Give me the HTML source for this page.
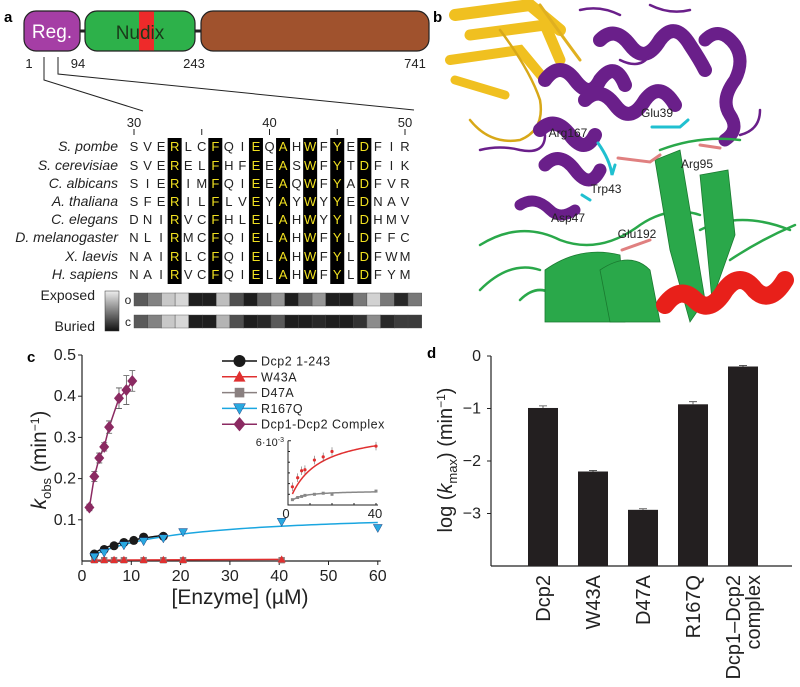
<!DOCTYPE html>
<html><head><meta charset="utf-8"><style>
html,body{margin:0;padding:0;background:#fff;}
svg{display:block;font-family:"Liberation Sans",Arial,sans-serif;}
</style></head><body>
<svg id="fig" width="800" height="687" viewBox="0 0 800 687" xmlns="http://www.w3.org/2000/svg">
<!-- Panel a -->
<g>
<text x="4" y="22" font-size="15" font-weight="bold">a</text>
<line x1="80" y1="31" x2="86" y2="31" stroke="#222" stroke-width="3"/>
<line x1="195" y1="31" x2="202" y2="31" stroke="#222" stroke-width="3"/>
<rect x="24" y="11" width="56" height="40" rx="12" fill="#a53ea5" stroke="#222" stroke-width="1.2"/>
<text x="52" y="38" font-size="19" fill="#fff" text-anchor="middle">Reg.</text>
<rect x="85" y="11" width="110" height="40" rx="12" fill="#2db14a" stroke="#222" stroke-width="1.2"/>
<rect x="139" y="11.6" width="15" height="38.8" fill="#ee2a2a"/>
<text x="140" y="39" font-size="19" fill="#1a3a1a" text-anchor="middle">Nudix</text>
<rect x="201" y="11" width="228" height="40" rx="12" fill="#a0522d" stroke="#222" stroke-width="1.2"/>
<g font-size="13" fill="#222">
<text x="29" y="68" text-anchor="middle">1</text>
<text x="78" y="68" text-anchor="middle">94</text>
<text x="194" y="68" text-anchor="middle">243</text>
<text x="415" y="68" text-anchor="middle">741</text>
</g>
<polyline points="44,57 44,80 143,111" fill="none" stroke="#222" stroke-width="1"/>
<polyline points="58,57 58,74 414,110" fill="none" stroke="#222" stroke-width="1"/>
<g id="align"></g>
<text x="95" y="300" font-size="14" text-anchor="end" fill="#222">Exposed</text>
<text x="95" y="331" font-size="14" text-anchor="end" fill="#222">Buried</text>
<defs><linearGradient id="gg" x1="0" y1="0" x2="0" y2="1"><stop offset="0" stop-color="#eee"/><stop offset="1" stop-color="#111"/></linearGradient></defs>
<rect x="105" y="291" width="14" height="40" fill="url(#gg)" stroke="#333" stroke-width="0.5"/>
<text x="128" y="304" font-size="12" text-anchor="middle" fill="#222">o</text>
<text x="128" y="326" font-size="12" text-anchor="middle" fill="#222">c</text>
<g id="expo"></g>
</g>
<!-- Panel b -->
<g>
<text x="433" y="22" font-size="15" font-weight="bold">b</text>
<g fill="none" stroke-linecap="round">
<!-- yellow domain -->
<path d="M455,15 L530,5 L560,30" stroke="#f0c020" stroke-width="12"/>
<path d="M470,35 L545,25 L560,60" stroke="#f0c020" stroke-width="11"/>
<path d="M450,60 L520,50 L545,80" stroke="#f0c020" stroke-width="10"/>
<path d="M455,80 L505,95" stroke="#f0c020" stroke-width="9"/>
<path d="M500,30 Q530,70 540,100 Q545,130 520,140 Q490,145 470,120" stroke="#d8a818" stroke-width="2.5"/>
<path d="M540,5 Q565,40 580,60" stroke="#e0b020" stroke-width="3"/>
<!-- purple domain -->
<path d="M545,80 Q560,60 575,80 Q590,100 600,80 Q615,60 625,85" stroke="#6a1f8a" stroke-width="14"/>
<path d="M585,100 Q600,85 615,105 Q630,125 645,100 Q660,80 675,105" stroke="#6a1f8a" stroke-width="14"/>
<path d="M600,40 Q615,25 630,45 Q645,65 660,40 Q675,20 690,45 Q700,60 705,70" stroke="#6a1f8a" stroke-width="14"/>
<path d="M705,40 Q720,25 735,45 Q745,60 735,80 Q720,100 730,115 Q740,130 725,140" stroke="#6a1f8a" stroke-width="13"/>
<path d="M540,130 Q555,115 570,135 Q585,155 595,135" stroke="#6a1f8a" stroke-width="14"/>
<path d="M545,165 Q560,150 575,170 Q590,190 600,170" stroke="#6a1f8a" stroke-width="13"/>
<path d="M520,205 Q535,195 550,210 Q560,220 575,210" stroke="#6a1f8a" stroke-width="11"/>
<path d="M480,150 Q500,145 520,150 Q545,155 545,135" stroke="#6a1f8a" stroke-width="2.5"/>
<path d="M580,10 Q600,5 620,15 M650,5 Q670,15 690,10 M740,135 Q760,130 760,110 M620,60 Q640,70 650,55" stroke="#6a1f8a" stroke-width="2.5"/>
<!-- green domain -->
<path d="M480,245 Q520,220 560,240 Q600,255 640,225 Q670,205 700,215 M480,290 Q510,260 540,270 M660,150 Q700,135 740,140 M730,260 Q760,240 795,225 M700,230 Q740,210 790,230 M520,300 Q540,280 560,300" stroke="#2aa84a" stroke-width="2.5"/>
</g>
<g fill="#2aa84a" stroke="#1a7a30" stroke-width="0.8">
<path d="M655,160 L680,150 L705,300 L690,322 L670,250 Z"/>
<path d="M700,175 L728,170 L735,235 L712,300 Z"/>
<path d="M545,270 Q580,245 620,255 L625,322 L545,322 Z"/>
<path d="M600,270 Q630,250 650,270 L660,322 L610,322 Z"/>
</g>
<g fill="none" stroke-linecap="round">
<path d="M665,305 Q680,285 695,300 Q710,315 725,290 Q740,270 755,290 Q770,305 785,280" stroke="#e8201a" stroke-width="18"/>
<path d="M652,127 L680,127 L688,120" stroke="#20c0d0" stroke-width="3"/>
<path d="M598,143 Q610,160 612,175 L615,165" stroke="#20c0d0" stroke-width="3"/>
<path d="M582,195 L590,200" stroke="#20c0d0" stroke-width="3"/>
<path d="M618,158 L650,162 L660,155" stroke="#e08080" stroke-width="3"/>
<path d="M700,145 L720,148" stroke="#e08080" stroke-width="3"/>
<path d="M622,250 L650,240" stroke="#e08080" stroke-width="3"/>
</g>
<g font-size="12" fill="#222">
<text x="657" y="117" text-anchor="middle">Glu39</text>
<text x="568" y="137" text-anchor="middle">Arg167</text>
<text x="697" y="168" text-anchor="middle">Arg95</text>
<text x="606" y="193" text-anchor="middle">Trp43</text>
<text x="568" y="222" text-anchor="middle">Asp47</text>
<text x="637" y="238" text-anchor="middle">Glu192</text>
</g>
</g>
<!-- Panel c -->
<g id="pc">
<text x="27" y="362" font-size="15" font-weight="bold">c</text>
</g>
<!-- Panel d -->
<g id="pd">
<text x="427" y="358" font-size="15" font-weight="bold">d</text>
</g>
</svg>
<script>
// ---- alignment data ----
const species = ["S. pombe","S. cerevisiae","C. albicans","A. thaliana","C. elegans","D. melanogaster","X. laevis","H. sapiens"];
const seqs = ["SVERLCFQIEQAHWFYEDFIR","SVERELFHFEEASWFYTDFIK","SIERIMFQIEEAQWFYADFVR","SFERILFLVEYAYWYYEDNAV","DNIRVCFHLELAHWYYIDHMV","NLIRMCFQIELAHWFYLDFFC","NAIRLCFQIELAHWFYLDFWM","NAIRVCFQIELAHWFYLDFYM"];
const conserved = [3,6,9,11,13,15,17];
const expoOpen = [90,130,200,215,30,30,190,80,30,100,150,30,100,150,30,30,120,210,120,40,120];
const expoComplex = [90,130,200,215,30,30,180,80,30,40,90,30,30,40,30,30,50,140,40,60,60];
const posTicks = [30,35,40,45,50];
// ---- chart c data ----
const cxTicks = [0,10,20,30,40,50,60];
const cyTicks = [0.1,0.2,0.3,0.4,0.5];
const complexX = [1.5,2.5,3.5,4.5,5.5,7.5,9,10.2];
const complexY = [0.13,0.205,0.25,0.277,0.325,0.395,0.415,0.437];
const complexErr = [0.008,0.012,0.012,0.01,0.015,0.025,0.035,0.025];
const dcp2X = [2.5,4.5,6.5,8.5,10.5,12.5,16.5];
const dcp2Y = [0.017,0.028,0.037,0.045,0.05,0.058,0.06];
const r167X = [2.5,4.5,8.5,12.5,16.5,20.5,40.5,60];
const r167Y = [0.01,0.02,0.038,0.048,0.055,0.07,0.095,0.08];
const mutX = [2.5,4.5,6.5,8.5,12.5,16.5,20.5,40.5];
const w43Y = [0.003,0.003,0.003,0.003,0.003,0.003,0.003,0.004];
const d47Y = [0.002,0.002,0.002,0.002,0.002,0.002,0.002,0.002];
const insetW43X = [2,4.4,6.2,7.7,12,16,20,40];
const insetW43Y = [1.7,2.55,3.2,3.3,4.2,4.5,5.0,5.5];
const insetD47X = [2,4.4,6.2,7.7,12,16,20,40];
const insetD47Y = [0.5,0.7,0.8,0.9,1.0,1.1,1.0,1.3];
const legendNames = ["Dcp2 1-243","W43A","D47A","R167Q","Dcp1-Dcp2 Complex"];
// ---- chart d data ----
const dCats = ["Dcp2","W43A","D47A","R167Q","Dcp1\u2013Dcp2|complex"];
const dVals = [-0.99,-2.2,-2.93,-0.92,-0.2];
const dErr = [0.04,0.02,0.02,0.05,0.02];
const dTicks = [0,-1,-2,-3];

const NS="http://www.w3.org/2000/svg";
function mk(parent,tag,attrs,text){const e=document.createElementNS(NS,tag);for(const k in attrs)e.setAttribute(k,attrs[k]);if(text!==undefined)e.textContent=text;parent.appendChild(e);return e;}

// alignment
const al=document.getElementById('align');
const col0=134, dc=13.55, rowY=[146,165,183,201,219,237,256,274];
conserved.forEach(c=>{const r=mk(al,'rect',{x:col0+c*dc-7,y:138,width:14,height:146,fill:'#000'});

});
posTicks.forEach(p=>{const x=col0+(p-30)*dc;
mk(al,'line',{x1:x,y1:129,x2:x,y2:135,stroke:'#222','stroke-width':1});
if(p%10===0){const t=mk(al,'text',{x:x,y:127,'font-size':13,'text-anchor':'middle',fill:'#222'},String(p));

}});
species.forEach((s,i)=>{const t=mk(al,'text',{x:118,y:rowY[i]+5,'font-size':14,'font-style':'italic','text-anchor':'end',fill:'#222'},s);


for(let c=0;c<seqs[i].length;c++){mk(al,'text',{x:col0+c*dc,y:rowY[i]+5,'font-size':13,'text-anchor':'middle',fill:conserved.includes(c)?'#f0e020':'#222'},seqs[i][c]);}});
const ex=document.getElementById('expo');
[[expoOpen,293],[expoComplex,315]].forEach(([arr,y])=>{arr.forEach((g,i)=>{const r=mk(ex,'rect',{x:col0+i*13.7,y:y,width:13.7,height:13,fill:`rgb(${g},${g},${g})`,stroke:'#444','stroke-width':0.4});

});});

// chart c
const pc=document.getElementById('pc');
const X0=82,XS=4.93,Y0=561,YS=412;
const cx=v=>X0+v*XS, cy=v=>Y0-v*YS;
mk(pc,'line',{x1:X0,y1:cy(0.5),x2:X0,y2:Y0,stroke:'#222','stroke-width':1.2});
mk(pc,'line',{x1:X0,y1:Y0,x2:cx(60)+3,y2:Y0,stroke:'#222','stroke-width':1.2});
cxTicks.forEach(v=>{mk(pc,'line',{x1:cx(v),y1:Y0,x2:cx(v),y2:Y0+4,stroke:'#222'});
const t=mk(pc,'text',{x:cx(v),y:Y0+20,'font-size':16,'text-anchor':'middle',fill:'#222'},String(v));

});
cyTicks.forEach(v=>{mk(pc,'line',{x1:X0-4,y1:cy(v),x2:X0,y2:cy(v),stroke:'#222'});
const t=mk(pc,'text',{x:X0-6,y:cy(v)+5,'font-size':16,'text-anchor':'end',fill:'#222'},v.toFixed(1));

});
let xt=mk(pc,'text',{x:240,y:604,'font-size':21,'text-anchor':'middle',fill:'#222'},'[Enzyme] (µM)');


let yt=mk(pc,'text',{transform:'translate(46,460) rotate(-90)','font-size':21,'text-anchor':'middle',fill:'#222'});
yt.innerHTML='<tspan font-style="italic">k</tspan><tspan font-size="13" dy="5">obs</tspan><tspan dy="-5"> (min</tspan><tspan font-size="12" dy="-7">−1</tspan><tspan dy="7">)</tspan>';


function marker(g,type,x,y,fill,s){s=s||4.5;
 if(type==='circle')return mk(g,'circle',{cx:x,cy:y,r:s,fill:fill});
 if(type==='tri')return mk(g,'polygon',{points:`${x},${y-s} ${x-s},${y+s*0.8} ${x+s},${y+s*0.8}`,fill:fill});
 if(type==='itri')return mk(g,'polygon',{points:`${x},${y+s} ${x-s},${y-s*0.8} ${x+s},${y-s*0.8}`,fill:fill,stroke:'#126','stroke-width':0.4});
 if(type==='sq')return mk(g,'rect',{x:x-s*0.8,y:y-s*0.8,width:s*1.6,height:s*1.6,fill:fill});
 if(type==='dia')return mk(g,'polygon',{points:`${x},${y-s*1.2} ${x-s},${y} ${x},${y+s*1.2} ${x+s},${y}`,fill:fill});}
function hyper(vmax,K,xmax,sx,sy,g,col,xmin){let d='';for(let i=0;i<=60;i++){const x=(xmin||0.5)+(xmax-(xmin||0.5))*i/60;d+=(i?'L':'M')+sx(x)+','+sy(vmax*x/(K+x));}return mk(g,'path',{d:d,fill:'none',stroke:col,'stroke-width':1.5});}
let f=hyper(0.12,17,60,cx,cy,pc,'#1aa6e0',2.5);


f=hyper(0.1,10,16.5,cx,cy,pc,'#111',2.5);


f=mk(pc,'line',{x1:cx(2.5),y1:cy(0.002),x2:cx(40.5),y2:cy(0.004),stroke:'#e03030','stroke-width':1.5});


let d='';complexX.forEach((x,i)=>{d+=(i?'L':'M')+cx(x)+','+cy(complexY[i]);});
let cl=mk(pc,'path',{d:d,fill:'none',stroke:'#8b2a62','stroke-width':1.5});


complexX.forEach((x,i)=>{const e=complexErr[i];mk(pc,'path',{d:`M${cx(x)},${cy(complexY[i]-e)}V${cy(complexY[i]+e)}M${cx(x)-3},${cy(complexY[i]-e)}h6M${cx(x)-3},${cy(complexY[i]+e)}h6`,stroke:'#555','stroke-width':0.8});});
function series(xs,ys,type,fill,name,s){xs.forEach((x,i)=>{const m=marker(pc,type,cx(x),cy(ys[i]),fill,s);

});}
series(mutX,d47Y,'sq','#8a8080','d47a-point',4);
series(mutX,w43Y,'tri','#e03030','w43a-point',4);
series(dcp2X,dcp2Y,'circle','#1a1a1a','dcp2-point',4.5);
series(r167X,r167Y,'itri','#29a8e0','r167q-point',4.5);
series(complexX,complexY,'dia','#8b2a62','complex-point',5);
const lcol=['#111','#e03030','#8a8080','#1aa6e0','#8b2a62'],ltype=['circle','tri','sq','itri','dia'],lfill=['#1a1a1a','#e03030','#8a8080','#29a8e0','#8b2a62'];
legendNames.forEach((n,i)=>{const y=361+i*15.8;const g=mk(pc,'g',{});


mk(g,'line',{x1:222,y1:y,x2:257,y2:y,stroke:lcol[i],'stroke-width':1.5});marker(g,ltype[i],239.5,y,lfill[i],6);
mk(g,'text',{x:261,y:y+4.5,'font-size':12.5,fill:'#222','letter-spacing':'0.5'},n);});
const IX0=288,IXS=2.2,IY0=505,IYS=10.7;
const ix=v=>IX0+v*IXS, iy=v=>IY0-v*IYS;
mk(pc,'path',{d:`M${IX0},${iy(6)}H${IX0+3}M${IX0},${iy(6)}V${IY0}H${ix(40)+2}`,fill:'none',stroke:'#222','stroke-width':1});
[10,20,30,40].forEach(v=>mk(pc,'line',{x1:ix(v),y1:IY0,x2:ix(v),y2:IY0-2,stroke:'#222'}));
[1,2,3,4,5].forEach(v=>mk(pc,'line',{x1:IX0,y1:iy(v),x2:IX0+2,y2:iy(v),stroke:'#222'}));
mk(pc,'text',{x:286,y:518,'font-size':13,'text-anchor':'middle',fill:'#222'},'0');
mk(pc,'text',{x:375,y:518,'font-size':13,'text-anchor':'middle',fill:'#222'},'40');
let it=mk(pc,'text',{x:284,y:446,'font-size':11,'text-anchor':'end',fill:'#222'});
it.innerHTML='6·10<tspan font-size="7" dy="-4">-3</tspan>';
hyper(7.2,12,40,ix,iy,pc,'#e03030',2);
hyper(1.35,4,40,ix,iy,pc,'#888',2);
insetW43X.forEach((x,i)=>{mk(pc,'line',{x1:ix(x),y1:iy(insetW43Y[i]-0.4),x2:ix(x),y2:iy(insetW43Y[i]+0.4),stroke:'#666','stroke-width':0.6});
const m=mk(pc,'circle',{cx:ix(x),cy:iy(insetW43Y[i]),r:1.6,fill:'#e03030'});

});
insetD47X.forEach((x,i)=>{const m=mk(pc,'rect',{x:ix(x)-1.5,y:iy(insetD47Y[i])-1.5,width:3,height:3,fill:'#888'});

});

// chart d
const pd=document.getElementById('pd');
const DX0=491,DY0=356,DS=52.5;
const dy=v=>DY0-v*DS;
mk(pd,'line',{x1:DX0,y1:dy(0),x2:DX0,y2:dy(-4),stroke:'#222','stroke-width':1.2});
mk(pd,'line',{x1:DX0,y1:dy(-4),x2:792,y2:dy(-4),stroke:'#222','stroke-width':1.2});
dTicks.forEach(v=>{mk(pd,'line',{x1:DX0-4,y1:dy(v),x2:DX0,y2:dy(v),stroke:'#222'});
const t=mk(pd,'text',{x:DX0-10,y:dy(v)+5,'font-size':16,'text-anchor':'end',fill:'#222'},v===0?'0':'\u2212'+Math.abs(v));

});
dCats.forEach((c,i)=>{const xc=543+i*50;
const b=mk(pd,'rect',{x:xc-15,y:dy(dVals[i]),width:30,height:dy(-4)-dy(dVals[i]),fill:'#231f20'});


const e=dErr[i];mk(pd,'path',{d:`M${xc},${dy(dVals[i])}V${dy(dVals[i]+e)}M${xc-4},${dy(dVals[i]+e)}h8`,stroke:'#444','stroke-width':0.8});
const parts=c.split('|');
parts.forEach((p,j)=>{const off=(j-(parts.length-1)/2)*20;
const t=mk(pd,'text',{transform:`translate(${xc+7+off},575) rotate(-90)`,'font-size':20,'text-anchor':'end',fill:'#222'},p);

});});
let dyt=mk(pd,'text',{transform:'translate(452,460) rotate(-90)','font-size':20,'text-anchor':'middle',fill:'#222'});
dyt.innerHTML='log (<tspan font-style="italic">k</tspan><tspan font-size="13" dy="5">max</tspan><tspan dy="-5">) (min</tspan><tspan font-size="12" dy="-7">−1</tspan><tspan dy="7">)</tspan>';


</script>
</body></html>
